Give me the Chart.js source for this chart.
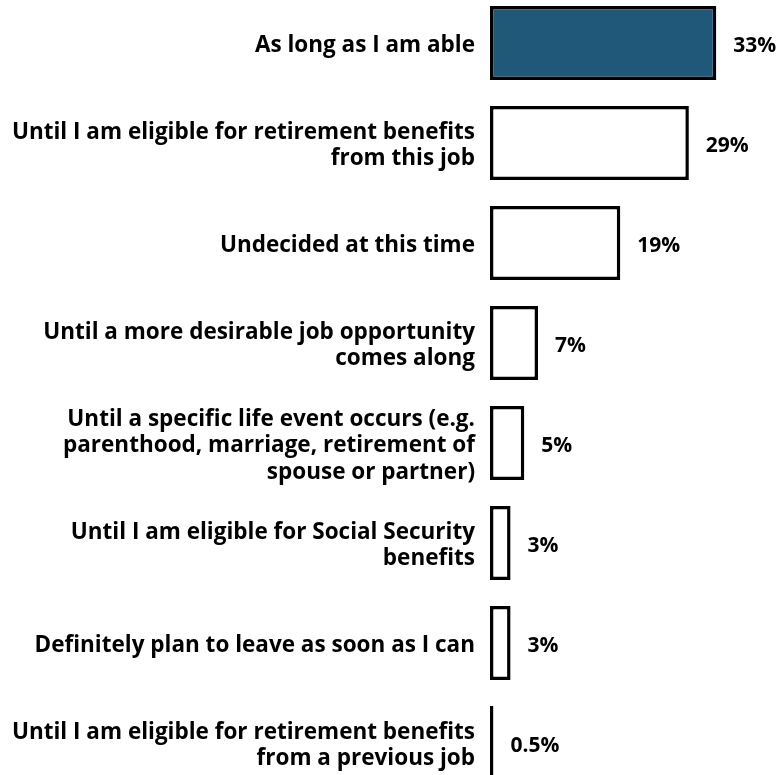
<!DOCTYPE html>
<html lang="en">
<head>
<meta charset="UTF-8">
<title>How long do you plan to stay in your current job?</title>
<script src="https://cdn.jsdelivr.net/npm/chart.js"></script>
<style>
    html, body { margin: 0; padding: 0; background: #fff; overflow: hidden; }
    .wrap { position: absolute; left: 0; top: -7px; width: 780px; height: 800px; }
</style>
</head>
<body>
<div class="wrap"><canvas id="stayChart"></canvas></div>
<script>
// answers, one array of lines per category
const categories = [
    ['As long as I am able'],
    ['Until I am eligible for retirement benefits', 'from this job'],
    ['Undecided at this time'],
    ['Until a more desirable job opportunity', 'comes along'],
    ['Until a specific life event occurs (e.g.', 'parenthood, marriage, retirement of', 'spouse or partner)'],
    ['Until I am eligible for Social Security', 'benefits'],
    ['Definitely plan to leave as soon as I can'],
    ['Until I am eligible for retirement benefits', 'from a previous job']
];
const shares = [33, 29, 19, 7, 5, 3, 3, 0.5];
const shareLabels = ['33%', '29%', '19%', '7%', '5%', '3%', '3%', '0.5%'];

const FONT = "'Open Sans', 'Noto Sans', sans-serif";

// value text to the right of each bar
const valueLabels = {
    id: 'valueLabels',
    afterDatasetsDraw(chart) {
        const ctx = chart.ctx;
        const meta = chart.getDatasetMeta(0);
        ctx.save();
        ctx.font = 'bold 21px ' + FONT;
        ctx.fillStyle = '#000';
        ctx.textAlign = 'left';
        ctx.textBaseline = 'middle';
        meta.data.forEach((bar, i) => {
            ctx.fillText(shareLabels[i], bar.x + 17, bar.y + 3);
        });
        ctx.restore();
    }
};

new Chart(document.getElementById('stayChart'), {
    type: 'bar',
    data: {
        labels: categories,
        datasets: [{
            data: shares,
            backgroundColor: shares.map((v, i) => i === 0 ? '#1f5879' : '#ffffff'),
            borderColor: '#000',
            borderWidth: 3.5,
            borderSkipped: false,
            barPercentage: 0.74,
            categoryPercentage: 1
        }]
    },
    options: {
        indexAxis: 'y',
        responsive: true,
        maintainAspectRatio: false,
        animation: false,
        layout: { padding: { top: 0, right: 2, bottom: 0, left: 0 } },
        plugins: { legend: { display: false }, tooltip: { enabled: false } },
        scales: {
            x: {
                display: false,
                min: 0,
                max: 42
            },
            y: {
                grid: { display: false },
                border: { display: false },
                afterFit(scale) {
                    scale.width = 490;
                    scale.paddingTop = 0;
                    scale.paddingBottom = 0;
                },
                ticks: {
                    color: '#000',
                    padding: 7,
                    labelOffset: 3,
                    font: { family: FONT, size: 22.5, weight: 'bold', lineHeight: 1.16 }
                }
            }
        }
    },
    plugins: [valueLabels]
});
</script>
</body>
</html>
